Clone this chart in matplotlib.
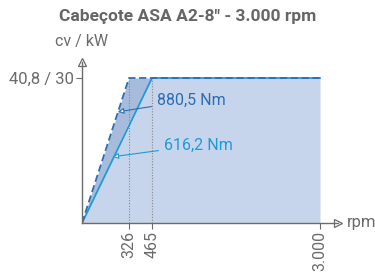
import numpy as np
import matplotlib.pyplot as plt

# dados
rpm_ticks = [326, 465, 3000]
tick_labels = ["326", "465", "3.000"]
potencia_max = 30          # kW (40,8 cv)
rpm_880 = [0, 326, 3000]   # curva 880,5 Nm (tracejada)
kw_880 = [0, 30, 30]
rpm_616 = [0, 465, 3000]   # curva 616,2 Nm (continua)
kw_616 = [0, 30, 30]

# eixo x nao linear (trechos comprimidos como no original)
xp = [0, 326, 465, 3000, 6000]
fp = [0, 47, 70, 238, 238 + 3000 * 168 / 2535]

def fwd(x):
    return np.interp(x, xp, fp)

def inv(p):
    return np.interp(p, fp, xp)

FONT = "Roboto"
gray = "#6b6b6b"
dark_blue = "#2d6db3"
light_blue = "#1f9ad6"
fill_light = "#c6d5ec"
fill_dark = "#a7bcdd"

fig = plt.figure(figsize=(3.75, 2.77), dpi=100)
ax = fig.add_axes([82 / 375, 54 / 277, 256 / 375, 161 / 277])
ax.set_xscale("function", functions=(fwd, inv))
ax.set_xlim(0, inv(256))
ax.set_ylim(0, potencia_max * 161 / 145)

# areas
x_fine = np.linspace(0, 3000, 2000)
y880 = np.interp(x_fine, rpm_880, kw_880)
y616 = np.interp(x_fine, rpm_616, kw_616)
ax.fill_between(x_fine, 0, y616, color=fill_light, lw=0)
ax.fill_between(x_fine, y616, y880, color=fill_dark, lw=0)

# linhas pontilhadas verticais
for r in rpm_ticks[:2]:
    ax.plot([r, r], [0, potencia_max], color="#888888", lw=0.8, ls=(0, (1, 1.5)))

ax.plot(rpm_616, kw_616, color=light_blue, lw=1.3)
ax.plot(rpm_880, kw_880, color=dark_blue, lw=1.3, ls=(0, (4, 2)))

# anotacoes
ax.annotate("880,5 Nm", xy=(249, 23.0), xytext=(540, 25.4), fontsize=11.5,
            color=dark_blue, va="center", ha="left", family=FONT,
            arrowprops=dict(arrowstyle="-|>,head_length=0.3,head_width=0.15",
                            color=dark_blue, lw=0.8, fc="white", shrinkB=0))
ax.annotate("616,2 Nm", xy=(212, 13.7), xytext=(646, 16.1), fontsize=11.5,
            color=light_blue, va="center", ha="left", family=FONT,
            arrowprops=dict(arrowstyle="-|>,head_length=0.3,head_width=0.15",
                            color=light_blue, lw=0.8, fc="white", shrinkB=0))

# eixos
for s in ["top", "right"]:
    ax.spines[s].set_visible(False)
for s in ["left", "bottom"]:
    ax.spines[s].set_color(gray)
    ax.spines[s].set_linewidth(1)
ax.set_facecolor("none")

ax.set_xticks(rpm_ticks)
ax.set_xticklabels(tick_labels, rotation=90, fontsize=11.5, color=gray, family=FONT)
ax.set_yticks([potencia_max])
ax.set_yticklabels(["40,8 / 30"], fontsize=12, color=gray, family=FONT)
ax.tick_params(axis="both", colors=gray, length=4, width=0.8, pad=2)

ax.plot(1, 0, marker=">", ms=6, mfc="white", mec=gray, mew=0.9,
        transform=ax.transAxes, clip_on=False)
ax.plot(0, 1, marker="^", ms=6, mfc="white", mec=gray, mew=0.9,
        transform=ax.transAxes, clip_on=False)
ax.text(1.035, 0, "rpm", transform=ax.transAxes, fontsize=12, color=gray,
        va="center", ha="left", family=FONT)
ax.text(0.0, 1.08, "cv / kW", transform=ax.transAxes, fontsize=11.5, color=gray,
        va="bottom", ha="center", family=FONT)

fig.text(188 / 375, 1 - 16 / 277, "Cabeçote ASA A2-8\" - 3.000 rpm", fontsize=12.5,
         fontweight="bold", color="#666666", ha="center", va="center", family=FONT)

fig.savefig("out.png", dpi=100)
